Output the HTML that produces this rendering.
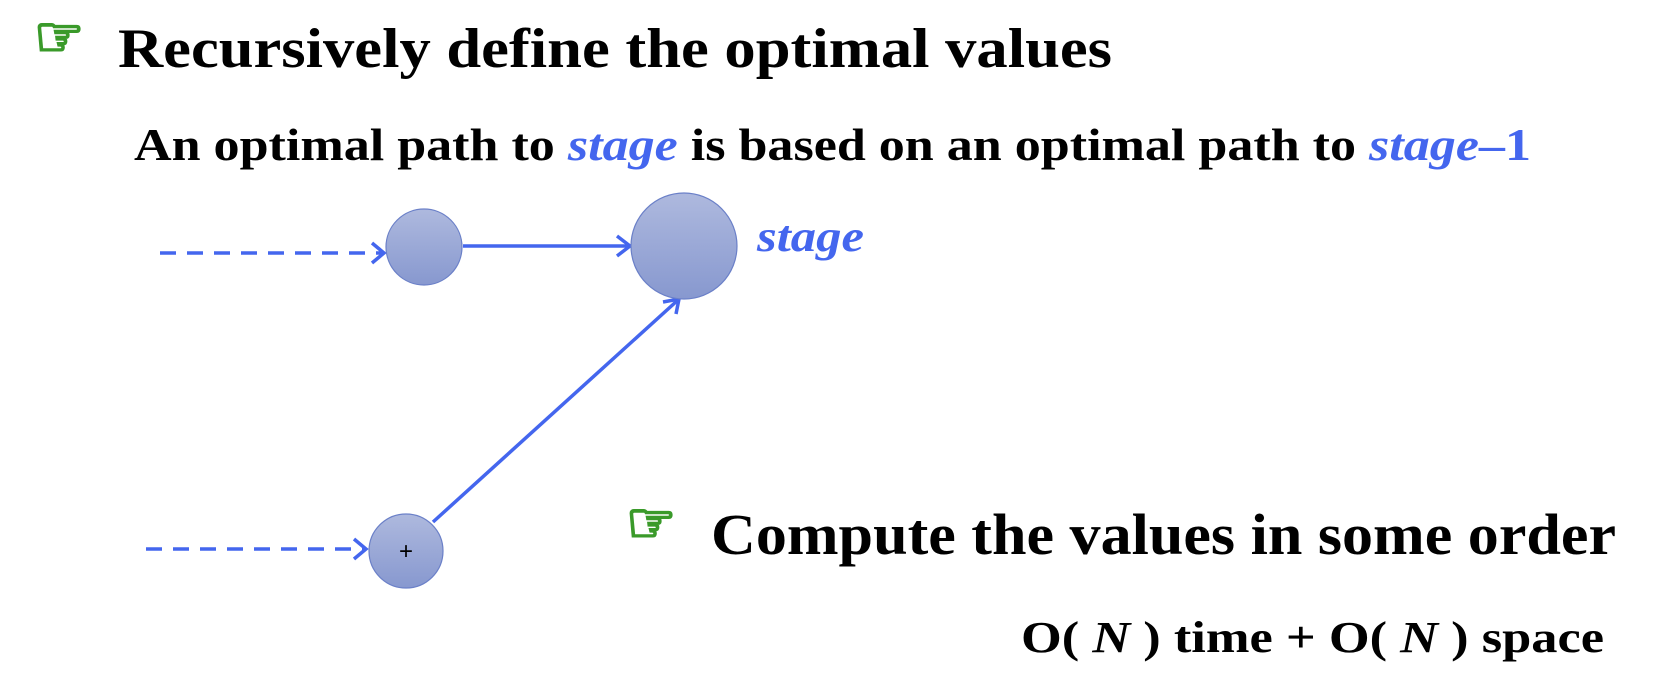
<!DOCTYPE html>
<html><head><meta charset="utf-8"><style>html,body{margin:0;padding:0;background:#fff;}svg{display:block}</style></head>
<body>
<svg width="1676" height="700" viewBox="0 0 1676 700" xmlns="http://www.w3.org/2000/svg">
<defs>
<linearGradient id="g" x1="0" y1="0" x2="0" y2="1"><stop offset="0" stop-color="#aeb9de"/><stop offset="1" stop-color="#8798cf"/></linearGradient>
</defs>
<g font-family="'Liberation Serif', serif" font-weight="bold">
<text x="34" y="56" font-family="'DejaVu Sans', sans-serif" font-weight="normal" font-size="56" fill="#3a9a2a" stroke="#3a9a2a" stroke-width="2.5">☞</text>
<text x="118" y="67" font-size="56" textLength="994" lengthAdjust="spacingAndGlyphs">Recursively define the optimal values</text>
<text x="134" y="160" font-size="46" textLength="1397" lengthAdjust="spacingAndGlyphs">An optimal path to <tspan fill="#4466ee" font-style="italic">stage</tspan> is based on an optimal path to <tspan fill="#4466ee"><tspan font-style="italic">stage</tspan>–1</tspan></text>
<text x="757" y="251" font-size="44" font-style="italic" fill="#4466ee" textLength="107" lengthAdjust="spacingAndGlyphs">stage</text>
<text x="626" y="542" font-family="'DejaVu Sans', sans-serif" font-weight="normal" font-size="56" fill="#3a9a2a" stroke="#3a9a2a" stroke-width="2.5">☞</text>
<text x="711" y="554" font-size="58" textLength="905" lengthAdjust="spacingAndGlyphs">Compute the values in some order</text>
<text x="1021" y="652" font-size="44" textLength="583" lengthAdjust="spacingAndGlyphs">O( <tspan font-style="italic">N</tspan> ) time + O( <tspan font-style="italic">N</tspan> ) space</text>
</g>
<g stroke="#4466ee" stroke-width="3.5" fill="none">
<line x1="160" y1="253" x2="382" y2="253" stroke-dasharray="16,11"/>
<polyline points="372,243 384,253 372,263"/>
<line x1="146" y1="549" x2="364" y2="549" stroke-dasharray="16,11"/>
<polyline points="354,539 366,549 354,559"/>
<line x1="463" y1="246" x2="629" y2="246"/>
<polyline points="617,236 630,246 617,256"/>
<line x1="433" y1="522" x2="678" y2="300"/>
<polyline points="663,302 679,299 676,314"/>
</g>
<g fill="url(#g)" stroke="#6b80c8" stroke-width="1.2">
<circle cx="424" cy="247" r="38"/>
<circle cx="684" cy="246" r="53"/>
<circle cx="406" cy="551" r="37"/>
</g>
<text x="406" y="559" font-family="'Liberation Sans', sans-serif" font-size="24" text-anchor="middle" fill="#000">+</text>
</svg>
</body></html>
